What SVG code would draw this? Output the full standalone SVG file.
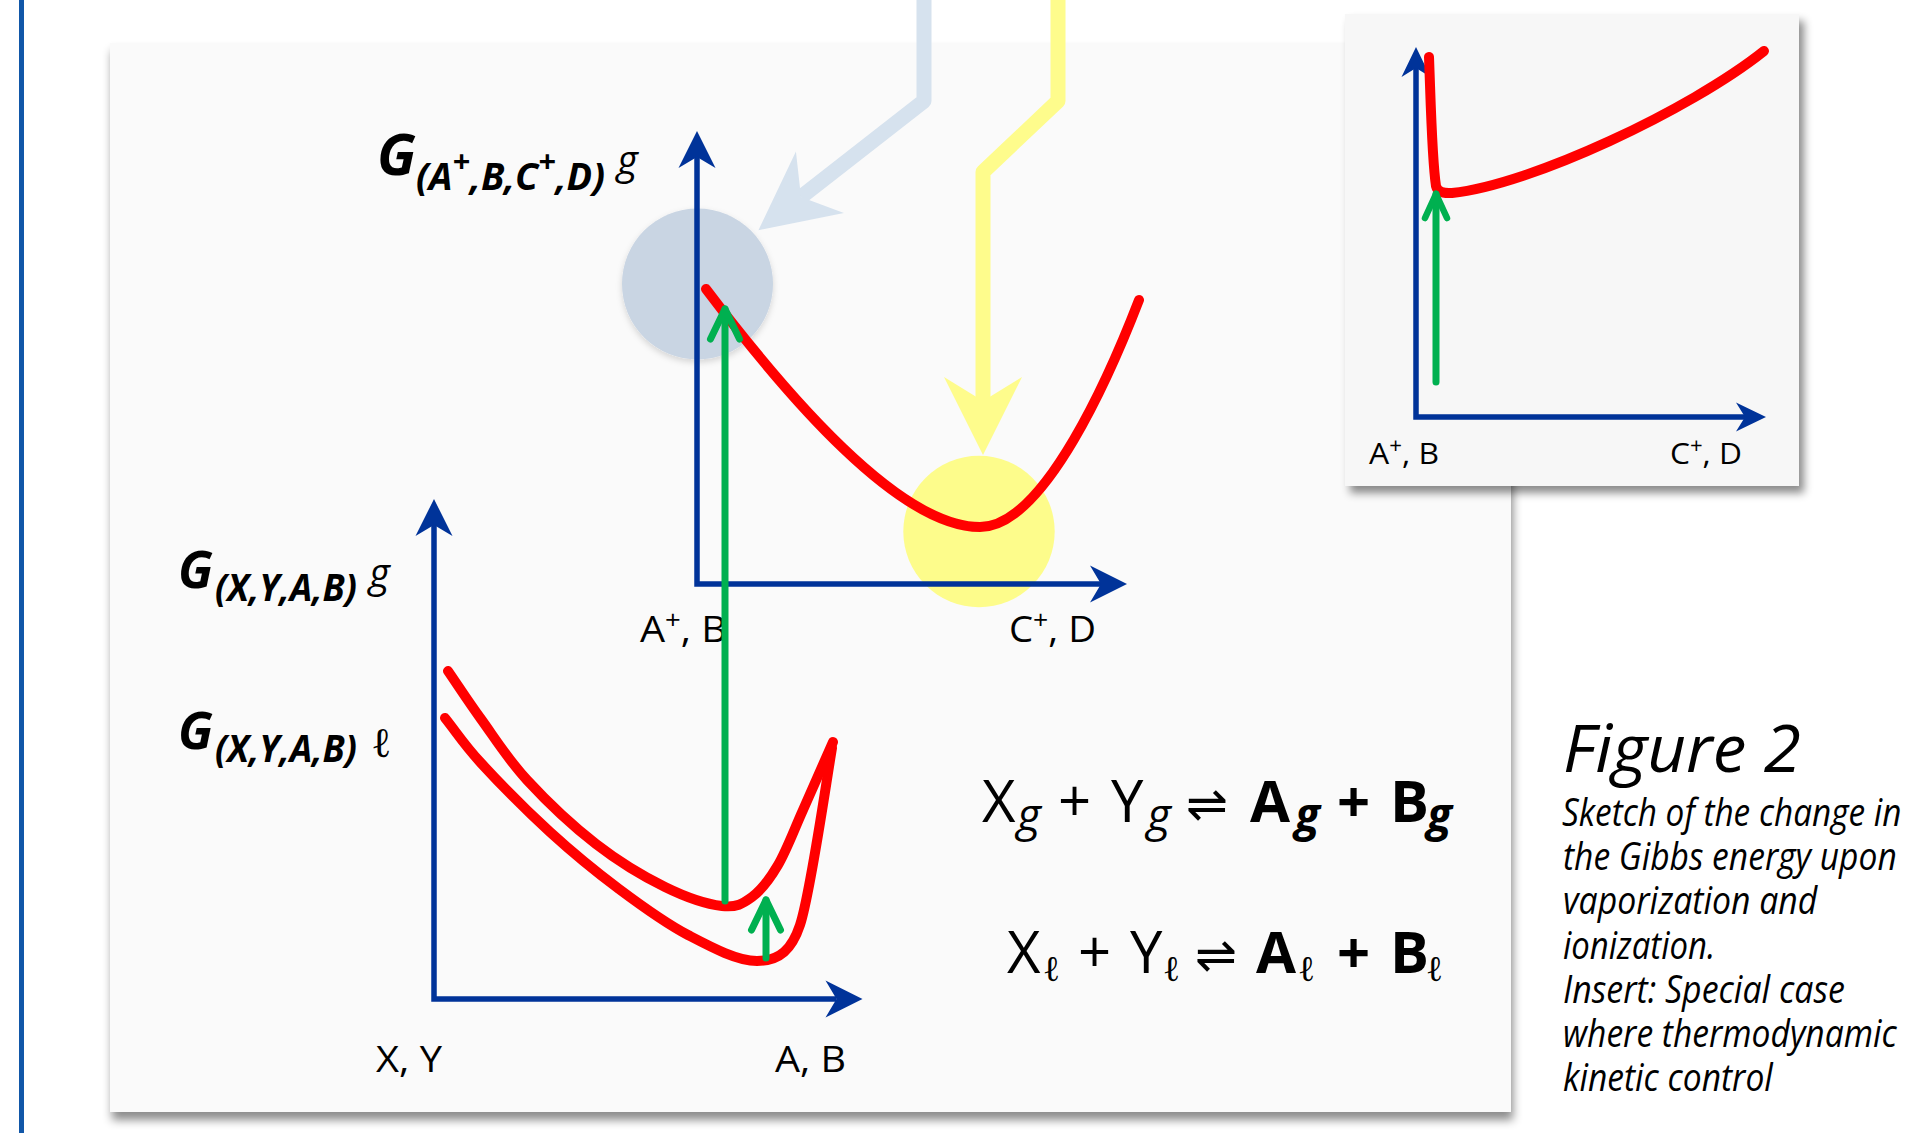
<svg xmlns="http://www.w3.org/2000/svg" width="1909" height="1133" viewBox="0 0 1909 1133">
<style>
.t{font-family:"Open Sans",Lato,"Liberation Sans","DejaVu Sans",sans-serif;fill:#000}
.lab{font-size:36px}
.ilab{font-size:30px}
.cap{font-size:39px;font-style:italic}
.eq{font-size:58px}
.b{font-weight:bold}
.i{font-style:italic}
.ell{font-family:"Liberation Serif","DejaVu Serif",serif;font-style:normal;font-weight:normal}
.arr{font-family:"DejaVu Sans",sans-serif;font-weight:normal;font-style:normal}
.axis{fill:none;stroke:#003399;stroke-width:5.5;stroke-linejoin:miter}
.red{fill:none;stroke:#ff0000;stroke-width:10;stroke-linecap:round;stroke-linejoin:round}
.grn{fill:none;stroke:#00b050;stroke-width:7;stroke-linecap:round;stroke-linejoin:round}
</style>
<defs>
<filter id="panelShadow" x="-3%" y="-3%" width="106%" height="108%">
<feDropShadow dx="2" dy="8" stdDeviation="5" flood-color="#000" flood-opacity="0.45"/>
</filter>
<filter id="insShadow" x="-5%" y="-5%" width="112%" height="112%">
<feDropShadow dx="5" dy="7" stdDeviation="4" flood-color="#000" flood-opacity="0.45"/>
</filter>
<filter id="circShadow" x="-20%" y="-20%" width="140%" height="140%">
<feDropShadow dx="0" dy="3" stdDeviation="3" flood-color="#000" flood-opacity="0.15"/>
</filter>
<marker id="axHead" markerUnits="userSpaceOnUse" orient="auto-start-reverse" overflow="visible" refX="0" refY="0" markerWidth="1" markerHeight="1">
<path d="M26,0 L-11,-18.5 L0,0 L-11,18.5 Z" fill="#003399"/>
</marker>
<marker id="axHeadS" markerUnits="userSpaceOnUse" orient="auto-start-reverse" overflow="visible" refX="0" refY="0" markerWidth="1" markerHeight="1">
<path d="M21,0 L-9,-14.5 L0,0 L-9,14.5 Z" fill="#003399"/>
</marker>
<marker id="grnHead" markerUnits="userSpaceOnUse" orient="auto" overflow="visible" refX="0" refY="0" markerWidth="1" markerHeight="1">
<path d="M-30,-14.5 L0,0 L-30,14.5" fill="none" stroke="#00b050" stroke-width="7" stroke-linecap="round" stroke-linejoin="round"/>
</marker>
<marker id="grnHeadS" markerUnits="userSpaceOnUse" orient="auto" overflow="visible" refX="0" refY="0" markerWidth="1" markerHeight="1">
<path d="M-24,-11 L0,0 L-24,11" fill="none" stroke="#00b050" stroke-width="6.5" stroke-linecap="round" stroke-linejoin="round"/>
</marker>
<marker id="blueBig" markerUnits="userSpaceOnUse" orient="auto" overflow="visible" refX="0" refY="0" markerWidth="1" markerHeight="1">
<path d="M54,0 L-24,-39 L0,0 L-24,39 Z" fill="#d6e2ee"/>
</marker>
<marker id="yelBig" markerUnits="userSpaceOnUse" orient="auto" overflow="visible" refX="0" refY="0" markerWidth="1" markerHeight="1">
<path d="M54,0 L-24,-39 L0,0 L-24,39 Z" fill="#fefc8c"/>
</marker>
</defs>

<rect width="1909" height="1133" fill="#ffffff"/>
<line id="margin-line" x1="21.5" y1="0" x2="21.5" y2="1133" stroke="#1157a8" stroke-width="5"/>

<g id="panel-main">
<rect x="110" y="43" width="1401" height="1069" fill="#fafafa" filter="url(#panelShadow)"/>
</g>

<g id="panel-insert">
<rect x="1345" y="14" width="454" height="472" fill="#f7f7f7" filter="url(#insShadow)"/>
</g>

<g id="highlight-circles">
<circle id="circle-blue" cx="697.5" cy="284" r="75.5" fill="#c9d5e3" filter="url(#circShadow)"/>
<circle id="circle-yellow" cx="979" cy="531.5" r="75.7" fill="#fdfc8b"/>
</g>

<g id="connectors">
<path id="arrow-lightblue" d="M924,-10 V101 L801,197" fill="none" stroke="#d6e2ee" stroke-width="15" stroke-linejoin="round" marker-end="url(#blueBig)"/>
<path id="arrow-yellow" d="M1058,-10 V101 L983,172 V401" fill="none" stroke="#fefc8c" stroke-width="15" stroke-linejoin="round" marker-end="url(#yelBig)"/>
</g>

<g id="graph-upper">
<path class="axis" d="M697,157 V584 H1101" marker-start="url(#axHead)" marker-end="url(#axHead)"/>
<path class="red" d="M706,289 C790,400 900,527 980,527 C1045,527 1112,370 1139,300"/>
<text class="t lab" x="640" y="642" textLength="87" lengthAdjust="spacingAndGlyphs">A<tspan font-size="25" dy="-13">+</tspan><tspan dy="13">, B</tspan></text>
<text class="t lab" x="1009" y="642" textLength="87" lengthAdjust="spacingAndGlyphs">C<tspan font-size="25" dy="-13">+</tspan><tspan dy="13">, D</tspan></text>
<text class="t b i" x="377" y="175" font-size="57" textLength="39" lengthAdjust="spacingAndGlyphs">G</text>
<text class="t b i" x="416" y="190" font-size="37" textLength="189" lengthAdjust="spacingAndGlyphs">(A<tspan font-size="30" dy="-18">+</tspan><tspan dy="18">,B,C</tspan><tspan font-size="30" dy="-18">+</tspan><tspan dy="18">,D)</tspan></text>
<text class="t i" x="617" y="174" font-size="40">g</text>
</g>

<g id="graph-lower">
<path class="axis" d="M434,525 V999 H836.5" marker-start="url(#axHead)" marker-end="url(#axHead)"/>
<path class="red" d="M448,671 C459,687 467.8,700.8 481,719 C494.2,737.2 507.8,759.2 527,780 C546.2,800.8 573,826.2 596,844 C619,861.8 644,876.7 665,887 C686,897.3 707.5,904.3 722,906 C736.5,907.7 742.7,903.8 752,897 C761.3,890.2 769.5,879.5 778,865 C786.5,850.5 793.8,830.5 803,810 C812.2,789.5 823,764.7 833,742"/>
<path class="red" d="M445,718 C457,733 463.5,744 481,763 C498.5,782 527,811 550,832 C573,853 596,871.8 619,889 C642,906.2 665,923 688,935 C711,947 737,961 757,961 C780,961 792,949 800,925 C810,895 825,790 832,748"/>
<text class="t lab" x="376" y="1072" textLength="66" lengthAdjust="spacingAndGlyphs">X, Y</text>
<text class="t lab" x="775" y="1072" textLength="71" lengthAdjust="spacingAndGlyphs">A, B</text>
<text class="t b i" x="178" y="588" font-size="52" textLength="35" lengthAdjust="spacingAndGlyphs">G</text>
<text class="t b i" x="215" y="601" font-size="37" textLength="142" lengthAdjust="spacingAndGlyphs">(X,Y,A,B)</text>
<text class="t i" x="369" y="587" font-size="40">g</text>
<text class="t b i" x="178" y="749" font-size="52" textLength="35" lengthAdjust="spacingAndGlyphs">G</text>
<text class="t b i" x="215" y="762" font-size="37" textLength="142" lengthAdjust="spacingAndGlyphs">(X,Y,A,B)</text>
<text class="t ell" x="371" y="757" font-size="42">ℓ</text>
</g>

<g id="transition-arrows">
<path id="green-vaporize" class="grn" d="M725,901 V309" marker-end="url(#grnHead)"/>
<path id="green-liquid" class="grn" d="M766,958 V900" marker-end="url(#grnHead)"/>
</g>

<g id="graph-insert">
<path class="axis" d="M1416,68 V417 H1745" marker-start="url(#axHeadS)" marker-end="url(#axHeadS)"/>
<path class="red" d="M1429,57 C1431,110 1432,160 1436,186 Q1438,194 1452,193 C1530,185 1690,110 1764,51"/>
<path class="grn" d="M1436,382 V194" stroke-width="6.5" marker-end="url(#grnHeadS)"/>
<text class="t ilab" x="1369" y="464" textLength="70" lengthAdjust="spacingAndGlyphs">A<tspan font-size="21" dy="-11">+</tspan><tspan dy="11">, B</tspan></text>
<text class="t ilab" x="1670" y="464" textLength="72" lengthAdjust="spacingAndGlyphs">C<tspan font-size="21" dy="-11">+</tspan><tspan dy="11">, D</tspan></text>
</g>

<g id="equations">
<text class="t eq">
<tspan x="982" y="822">X</tspan><tspan x="1017" y="831" class="i" font-size="46">g</tspan><tspan x="1058" y="822">+</tspan><tspan x="1111" y="822">Y</tspan><tspan x="1147" y="831" class="i" font-size="46">g</tspan><tspan x="1186" y="821" class="arr" font-size="50">⇌</tspan><tspan x="1250" y="822" class="b">A</tspan><tspan x="1295" y="831" class="b i" font-size="46">g</tspan><tspan x="1337" y="822" class="b">+</tspan><tspan x="1390" y="822" class="b">B</tspan><tspan x="1427" y="831" class="b i" font-size="46">g</tspan>
</text>
<text class="t eq">
<tspan x="1007" y="973">X</tspan><tspan x="1043" y="981" class="ell" font-size="36">ℓ</tspan><tspan x="1078" y="973">+</tspan><tspan x="1130" y="973">Y</tspan><tspan x="1163" y="981" class="ell" font-size="36">ℓ</tspan><tspan x="1195" y="972" class="arr" font-size="50">⇌</tspan><tspan x="1256" y="973" class="b">A</tspan><tspan x="1298" y="981" class="ell" font-size="36">ℓ</tspan><tspan x="1337" y="973" class="b">+</tspan><tspan x="1390" y="973" class="b">B</tspan><tspan x="1426" y="981" class="ell" font-size="36">ℓ</tspan>
</text>
</g>

<g id="caption">
<text class="t i" x="1563" y="772" font-size="65" textLength="238" lengthAdjust="spacingAndGlyphs">Figure 2</text>
<text class="t cap" transform="matrix(0.81,0,0,1,1562,826)" textLength="419" lengthAdjust="spacingAndGlyphs">Sketch of the change in</text>
<text class="t cap" transform="matrix(0.81,0,0,1,1563,870)" textLength="412" lengthAdjust="spacingAndGlyphs">the Gibbs energy upon</text>
<text class="t cap" transform="matrix(0.81,0,0,1,1563,914)" textLength="314" lengthAdjust="spacingAndGlyphs">vaporization and</text>
<text class="t cap" transform="matrix(0.81,0,0,1,1563,959)" textLength="188" lengthAdjust="spacingAndGlyphs">ionization.</text>
<text class="t cap" transform="matrix(0.81,0,0,1,1563,1003)" textLength="348" lengthAdjust="spacingAndGlyphs">Insert: Special case</text>
<text class="t cap" transform="matrix(0.81,0,0,1,1563,1047)" textLength="412" lengthAdjust="spacingAndGlyphs">where thermodynamic</text>
<text class="t cap" transform="matrix(0.81,0,0,1,1563,1091)" textLength="259" lengthAdjust="spacingAndGlyphs">kinetic control</text>
</g>
</svg>
